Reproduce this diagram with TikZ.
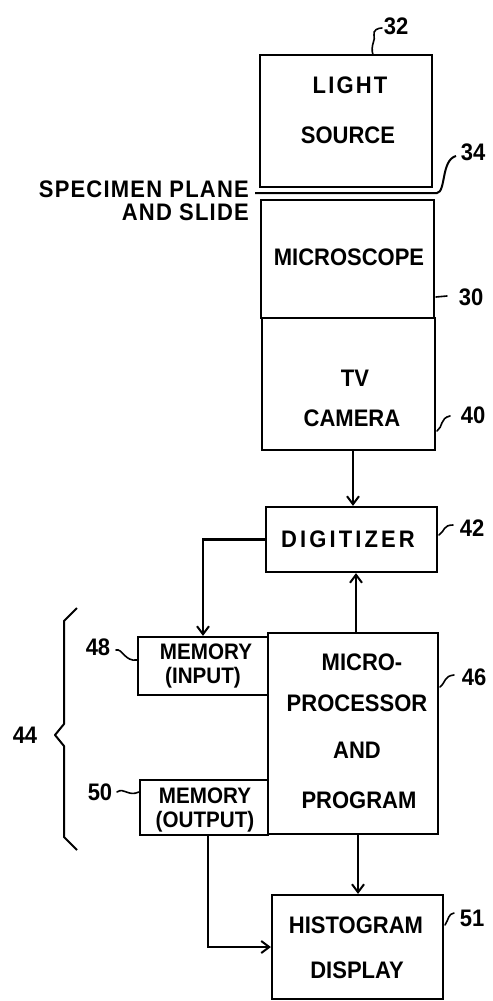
\documentclass[tikz,border=0pt]{standalone}
\usepackage{fontspec}
\setmainfont{Liberation Sans}[FakeStretch=0.92]
\usetikzlibrary{arrows.meta}
\begin{document}
\begin{tikzpicture}[x=1bp,y=-1bp,
  box/.style={draw, line width=2.2bp, inner sep=0pt},
  txt/.style={font=\fontsize{24}{28}\selectfont\bfseries, inner sep=0pt, align=center},
  stxt/.style={font=\fontsize{22.5}{26}\selectfont\bfseries, inner sep=0pt, align=center},
  arr/.style={line width=2.2bp, -{Straight Barb[length=8bp,width=12bp,line width=2bp]}},
  lead/.style={line width=1.6bp, line cap=round}]
\path[use as bounding box] (0,0) rectangle (493,1001);

% boxes
\node[box, minimum width=172bp, minimum height=132bp] (light) at (346,121) {};
\node[box, minimum width=173bp, minimum height=118bp] (mic) at (347.5,259) {};
\node[box, minimum width=173bp, minimum height=132bp] (tv) at (348.5,384) {};
\node[box, minimum width=171bp, minimum height=65bp] (dig) at (351.5,539.5) {};
\node[box, minimum width=130bp, minimum height=58bp] (memin) at (203,666) {};
\node[box, minimum width=170bp, minimum height=201bp] (mp) at (353,733.5) {};
\node[box, minimum width=128bp, minimum height=55bp] (memout) at (204,807.5) {};
\node[box, minimum width=171bp, minimum height=104bp] (hist) at (357.5,947) {};

% texts
\node[txt] (tLight) at (350,85) {\addfontfeature{LetterSpace=9}LIGHT};
\node[txt] (tSource) at (348,135) {SOURCE};
\node[txt] (tMic) at (349,257) {MICROSCOPE};
\node[txt] (tTv) at (355,378) {TV};
\node[txt] (tCam) at (352,418) {CAMERA};
\node[txt] (tDig) at (348,539) {\addfontfeature{LetterSpace=13}DIGITIZER};
\node[stxt] (tMem1) at (206,652) {MEMORY};
\node[stxt] (tIn) at (203,678) {(INPUT)};
\node[txt] (tMicro) at (362,662) {MICRO-};
\node[txt] (tProc) at (357,703) {PROCESSOR};
\node[txt] (tAnd) at (357,750) {AND};
\node[txt] (tProg) at (359,800) {PROGRAM};
\node[stxt] (tMem2) at (205,796) {MEMORY};
\node[stxt] (tOut) at (205,822) {(OUTPUT)};
\node[txt] (tHist) at (356,925) {HISTOGRAM};
\node[txt] (tDisp) at (357,970) {DISPLAY};
\node[txt, anchor=east] (tSpec) at (249,189) {\addfontfeature{LetterSpace=5}SPECIMEN PLANE};
\node[txt, anchor=east] (tSlide) at (249,212) {\addfontfeature{LetterSpace=5}AND SLIDE};

% reference numerals
\node[txt] (n32) at (396,26) {32};
\node[txt] (n34) at (473,152) {34};
\node[txt] (n30) at (471,297) {30};
\node[txt] (n40) at (473,415) {40};
\node[txt] (n42) at (472,528) {42};
\node[txt] (n46) at (474,677) {46};
\node[txt] (n48) at (98,647) {48};
\node[txt] (n50) at (100,792) {50};
\node[txt] (n51) at (472,918) {51};
\node[txt] (n44) at (25,735) {44};

% coordinates
\coordinate (c32a) at (373,55);
\coordinate (c32b) at (382,28);
\coordinate (spL) at (255,193);
\coordinate (spR) at (437,193);
\coordinate (c34) at (456,156);
\coordinate (c30a) at (436,297);
\coordinate (c30b) at (447,296);
\coordinate (c40a) at (437,431);
\coordinate (c40b) at (450,416);
\coordinate (c42a) at (439,535);
\coordinate (c42b) at (453,525);
\coordinate (c46a) at (440,687);
\coordinate (c46b) at (454,675);
\coordinate (c48a) at (116,650);
\coordinate (c48b) at (137,660);
\coordinate (c50a) at (117,792);
\coordinate (c50b) at (139,792);
\coordinate (c51a) at (445,925);
\coordinate (c51b) at (454,913);
\coordinate (x353) at (353,0);
\coordinate (x356) at (356,0);
\coordinate (x358) at (358,0);
\coordinate (x208) at (208,0);

% leaders
\draw[lead] (c32a) .. controls (370,45) and (376,40) .. (374,35) .. controls (373,30) and (378,28) .. (c32b);
\draw[line width=2bp] (spL) -- (spR) .. controls (446,192) and (441,160) .. (c34);
\draw[lead] (c30a) -- (c30b);
\draw[lead] (c40a) .. controls (443,427) and (440,418) .. (c40b);
\draw[lead] (c42a) .. controls (445,531) and (443,525) .. (c42b);
\draw[lead] (c46a) .. controls (446,682) and (444,676) .. (c46b);
\draw[lead] (c48a) .. controls (122,648) and (125,662) .. (c48b);
\draw[lead] (c50a) .. controls (124,787) and (128,797) .. (c50b);
\draw[lead] (c51a) .. controls (449,919) and (448,914) .. (c51b);

% brace 44
\draw[line width=2bp, line join=round] (77,608) -- (64,621) -- (64,724) -- (55,735) -- (64,746) -- (64,837) -- (77,850);

% connectors
\draw[arr] (tv.south -| x353) -- (dig.north -| x353);
\draw[arr] (mp.north -| x356) -- (dig.south -| x356);
\draw[arr] (dig.west) -| (memin.north);
\draw[arr] (mp.south -| x358) -- (hist.north -| x358);
\draw[arr] (memout.south -| x208) |- (hist.west);
\end{tikzpicture}
\end{document}
